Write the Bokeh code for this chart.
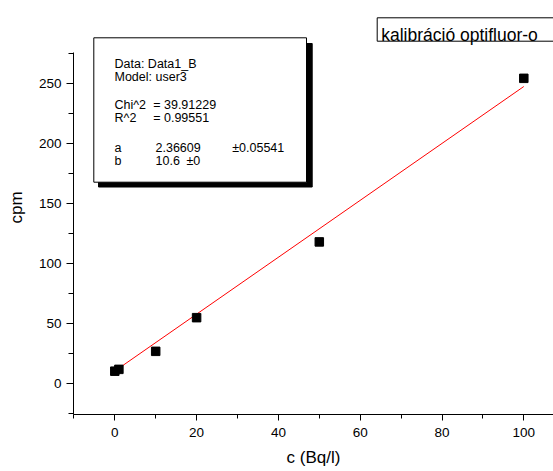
from bokeh.plotting import figure
from bokeh.models import Range1d, FixedTicker
from bokeh.core.properties import value
from bokeh.embed import file_html
from bokeh.resources import INLINE

# ---- data ----
conc = [0, 1, 10, 20, 50, 100]
cpm = [10.5, 12, 27, 55, 118, 254]
fit_a = 2.36609
fit_b = 10.6
fit_x = [0, 100]
fit_y = [fit_a * x + fit_b for x in fit_x]

x_major = [0, 20, 40, 60, 80, 100]
x_minor = [-10, 10, 30, 50, 70, 90, 110]
y_major = [0, 50, 100, 150, 200, 250]
y_minor = [-25, 25, 75, 125, 175, 225, 275]

stats_col1 = ["Data: Data1_B", "Model: user3", "Chi^2", "R^2", "a", "b"]
stats_col2 = ["", "", "= 39.91229", "= 0.99551", "2.36609", "10.6"]
stats_col3 = ["", "", "", "", "\u00b10.05541", "\u00b10"]
legend_text = "kalibráció optifluor-o"

FONT = "Liberation Sans"

# ---- page pixel -> data helpers (layout only) ----
X0_PX, X_SCALE = 114.3, 4.09     # page px of x=0, px per unit
Y0_PX, Y_SCALE = 383.3, 1.2026   # page px of y=0, px per unit


def xd(px):
    return (px - X0_PX) / X_SCALE


def yd(py):
    return (Y0_PX - py) / Y_SCALE


p = figure(width=553, height=471, output_backend="svg", toolbar_location=None,
           x_range=Range1d(xd(73), xd(553)), y_range=Range1d(yd(414), yd(0)),
           min_border_left=73, min_border_right=0, min_border_top=0, min_border_bottom=57)
p.outline_line_color = None
p.xgrid.visible = False
p.ygrid.visible = False
p.background_fill_color = "white"
p.border_fill_color = "white"

for ax in (p.xaxis[0], p.yaxis[0]):
    ax.axis_line_color = "black"
    ax.major_tick_line_color = "black"
    ax.minor_tick_line_color = "black"
    ax.major_tick_in = 0
    ax.minor_tick_in = 0
    ax.major_label_text_font = FONT
    ax.major_label_text_font_size = "13.5px"
    ax.major_label_text_color = "black"
    ax.axis_label_text_font = FONT
    ax.axis_label_text_font_size = "17px"
    ax.axis_label_text_font_style = "normal"
    ax.axis_label_text_color = "black"

p.xaxis[0].ticker = FixedTicker(ticks=x_major, minor_ticks=x_minor)
p.yaxis[0].ticker = FixedTicker(ticks=y_major, minor_ticks=y_minor)
p.xaxis[0].major_tick_out = 6
p.xaxis[0].minor_tick_out = 4
p.yaxis[0].major_tick_out = 7
p.yaxis[0].minor_tick_out = 5
p.yaxis[0].bounds = (yd(414), yd(51.7))
p.xaxis[0].major_label_standoff = 7
p.yaxis[0].major_label_standoff = 5
p.xaxis.axis_label = "c (Bq/l)"
p.yaxis.axis_label = "cpm"
p.xaxis[0].axis_label_standoff = 8
p.yaxis[0].axis_label_standoff = 10

# fit line and points
p.line(fit_x, fit_y, line_color="red", line_width=1)
p.scatter(conc, cpm, marker="square", size=8.5, fill_color="black", line_color="black")

# stats box with shadow
p.quad(left=[xd(98)], right=[xd(311.7)], top=[yd(43)], bottom=[yd(186.5)],
       fill_color="black", line_color="black")
p.quad(left=[xd(93.3)], right=[xd(306)], top=[yd(37.3)], bottom=[yd(181.7)],
       fill_color="white", line_color="black", line_width=1)

baselines = [63.3, 76.7, 104, 117.3, 147.3, 160.3]
p.text(x=[xd(114)] * len(stats_col1), y=[yd(b) for b in baselines], text=stats_col1,
       text_font=value(FONT), text_font_size="12.5px", text_color="black",
       text_align="left", text_baseline="alphabetic")
col2_x = [155, 155, 152.7, 152.7, 155, 155]
p.text(x=[xd(v) for v in col2_x], y=[yd(b) for b in baselines], text=stats_col2,
       text_font=value(FONT), text_font_size="12.5px", text_color="black",
       text_align="left", text_baseline="alphabetic")
col3_x = [231.7, 231.7, 231.7, 231.7, 231.7, 186]
p.text(x=[xd(v) for v in col3_x], y=[yd(b) for b in baselines], text=stats_col3,
       text_font=value(FONT), text_font_size="12.5px", text_color="black",
       text_align="left", text_baseline="alphabetic")

# legend-like title box
p.quad(left=[xd(376.7)], right=[xd(570)], top=[yd(17.3)], bottom=[yd(40.7)],
       fill_color="white", line_color="black", line_width=1)
p.text(x=[xd(380.7)], y=[yd(34)], text=[legend_text],
       text_font=value(FONT), text_font_size="17.5px", text_color="black",
       text_align="left", text_baseline="alphabetic")

open("out.html", "w").write(file_html(p, INLINE))
